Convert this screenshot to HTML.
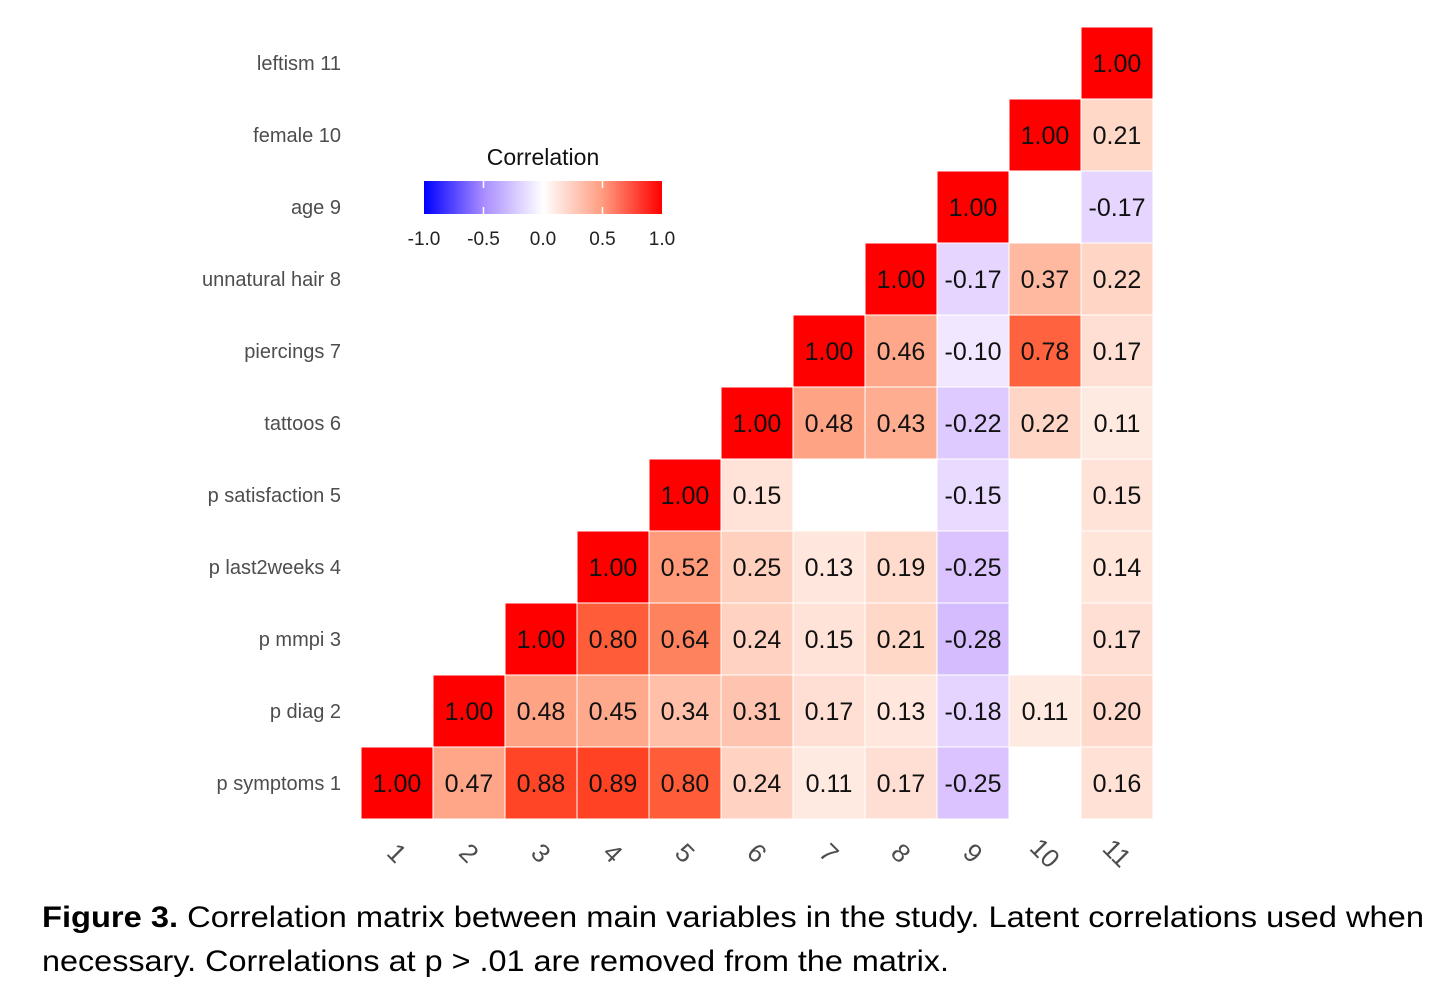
<!DOCTYPE html>
<html><head><meta charset="utf-8"><style>
html,body{margin:0;padding:0;background:#fff;}
svg{display:block;}
text{font-family:"Liberation Sans",sans-serif;}
</style></head><body>
<svg id="chart" width="1456" height="986" viewBox="0 0 1456 986" xmlns="http://www.w3.org/2000/svg">
<defs>
<linearGradient id="lg" x1="0" x2="1" y1="0" y2="0">
<stop offset="0" stop-color="#0000ff"/><stop offset="0.25" stop-color="#a88cff"/><stop offset="0.5" stop-color="#ffffff"/><stop offset="0.75" stop-color="#ff9c80"/><stop offset="1" stop-color="#ff0000"/>
</linearGradient>
</defs>
<g id="cells"></g>
<g id="labels"></g>
<g>
<text x="543" y="165" font-size="23" text-anchor="middle" fill="#111">Correlation</text>
<rect x="424" y="181" width="238" height="33" fill="url(#lg)"/>
<g id="legticks"></g>
</g>
<text font-size="30" fill="#000"><tspan x="42" y="927" textLength="1382" lengthAdjust="spacingAndGlyphs"><tspan font-weight="bold">Figure 3.</tspan> Correlation matrix between main variables in the study. Latent correlations used when</tspan><tspan x="42" y="971" textLength="907" lengthAdjust="spacingAndGlyphs">necessary. Correlations at p &gt; .01 are removed from the matrix.</tspan></text>
</svg>
<script>
const rowLabels=["p symptoms 1","p diag 2","p mmpi 3","p last2weeks 4","p satisfaction 5","tattoos 6","piercings 7","unnatural hair 8","age 9","female 10","leftism 11"];
const colLabels=["1","2","3","4","5","6","7","8","9","10","11"];
const legendTicks=[-1.0,-0.5,0.0,0.5,1.0];
const row1=[1.00,0.47,0.88,0.89,0.80,0.24,0.11,0.17,-0.25,null,0.16];
const row2=[1.00,0.48,0.45,0.34,0.31,0.17,0.13,-0.18,0.11,0.20];
const row3=[1.00,0.80,0.64,0.24,0.15,0.21,-0.28,null,0.17];
const row4=[1.00,0.52,0.25,0.13,0.19,-0.25,null,0.14];
const row5=[1.00,0.15,null,null,-0.15,null,0.15];
const row6=[1.00,0.48,0.43,-0.22,0.22,0.11];
const row7=[1.00,0.46,-0.10,0.78,0.17];
const row8=[1.00,-0.17,0.37,0.22];
const row9=[1.00,null,-0.17];
const row10=[1.00,0.21];
const row11=[1.00];
const rows=[row1,row2,row3,row4,row5,row6,row7,row8,row9,row10,row11];
const NS="http://www.w3.org/2000/svg";
const x0=361,cw=72,yBottom=819,ch=72;
const xPos=c=>x0+c*cw;
const yPos=r=>yBottom-(r+1)*ch;
const legX=v=>424+(v+1)/2*238;
function col(v){
  const p=Math.round(Math.abs(v)*100);
  return v>=0?`color-mix(in lab, #ff0000 ${p}%, #ffffff)`:`color-mix(in lab, #0000ff ${p}%, #ffffff)`;
}
const cells=document.getElementById('cells');
rows.forEach((arr,r)=>{arr.forEach((v,k)=>{
  if(v===null)return;const c=r+k;
  const rect=document.createElementNS(NS,'rect');
  
  
  rect.setAttribute('x',xPos(c));rect.setAttribute('y',yPos(r));
  rect.setAttribute('width',cw);rect.setAttribute('height',ch);
  rect.setAttribute('fill',col(v));rect.setAttribute('stroke','#fff');rect.setAttribute('stroke-width','1');
  cells.appendChild(rect);
  const t=document.createElementNS(NS,'text');
  
  
  t.setAttribute('x',xPos(c)+cw/2);t.setAttribute('y',yPos(r)+ch/2+9);
  t.setAttribute('text-anchor','middle');t.setAttribute('font-size','25');t.setAttribute('fill','#111');
  t.textContent=v.toFixed(2);cells.appendChild(t);
});});
const labels=document.getElementById('labels');
rowLabels.forEach((s,r)=>{
  const t=document.createElementNS(NS,'text');
  
  
  t.setAttribute('x',341);t.setAttribute('y',yPos(r)+ch/2+7);
  t.setAttribute('text-anchor','end');t.setAttribute('font-size','20');t.setAttribute('fill','#4d4d4d');
  t.textContent=s;labels.appendChild(t);
});
colLabels.forEach((s,c)=>{
  const t=document.createElementNS(NS,'text');
  
  
  const cx=xPos(c)+cw/2,cy=862;
  t.setAttribute('x',cx);t.setAttribute('y',cy);
  t.setAttribute('text-anchor','middle');t.setAttribute('font-size','26');t.setAttribute('fill','#4d4d4d');
  t.setAttribute('transform',`rotate(45 ${cx} ${cy-9})`);
  t.textContent=s;labels.appendChild(t);
});
const lt=document.getElementById('legticks');
legendTicks.forEach(v=>{
  const x=legX(v);
  if(v>-1&&v<1){const l=document.createElementNS(NS,'line');
  
  
  l.setAttribute('x1',x);l.setAttribute('x2',x);l.setAttribute('y1',181);l.setAttribute('y2',188);
  l.setAttribute('stroke','#fff');l.setAttribute('stroke-width','1.5');lt.appendChild(l);
  const l2=l.cloneNode();l2.setAttribute('y1',207);l2.setAttribute('y2',214);lt.appendChild(l2);}
  const t=document.createElementNS(NS,'text');
  
  
  t.setAttribute('x',x);t.setAttribute('y',245);t.setAttribute('text-anchor','middle');
  t.setAttribute('font-size','19');t.setAttribute('fill','#222');
  t.textContent=v.toFixed(1);lt.appendChild(t);
});
</script>
</body></html>
